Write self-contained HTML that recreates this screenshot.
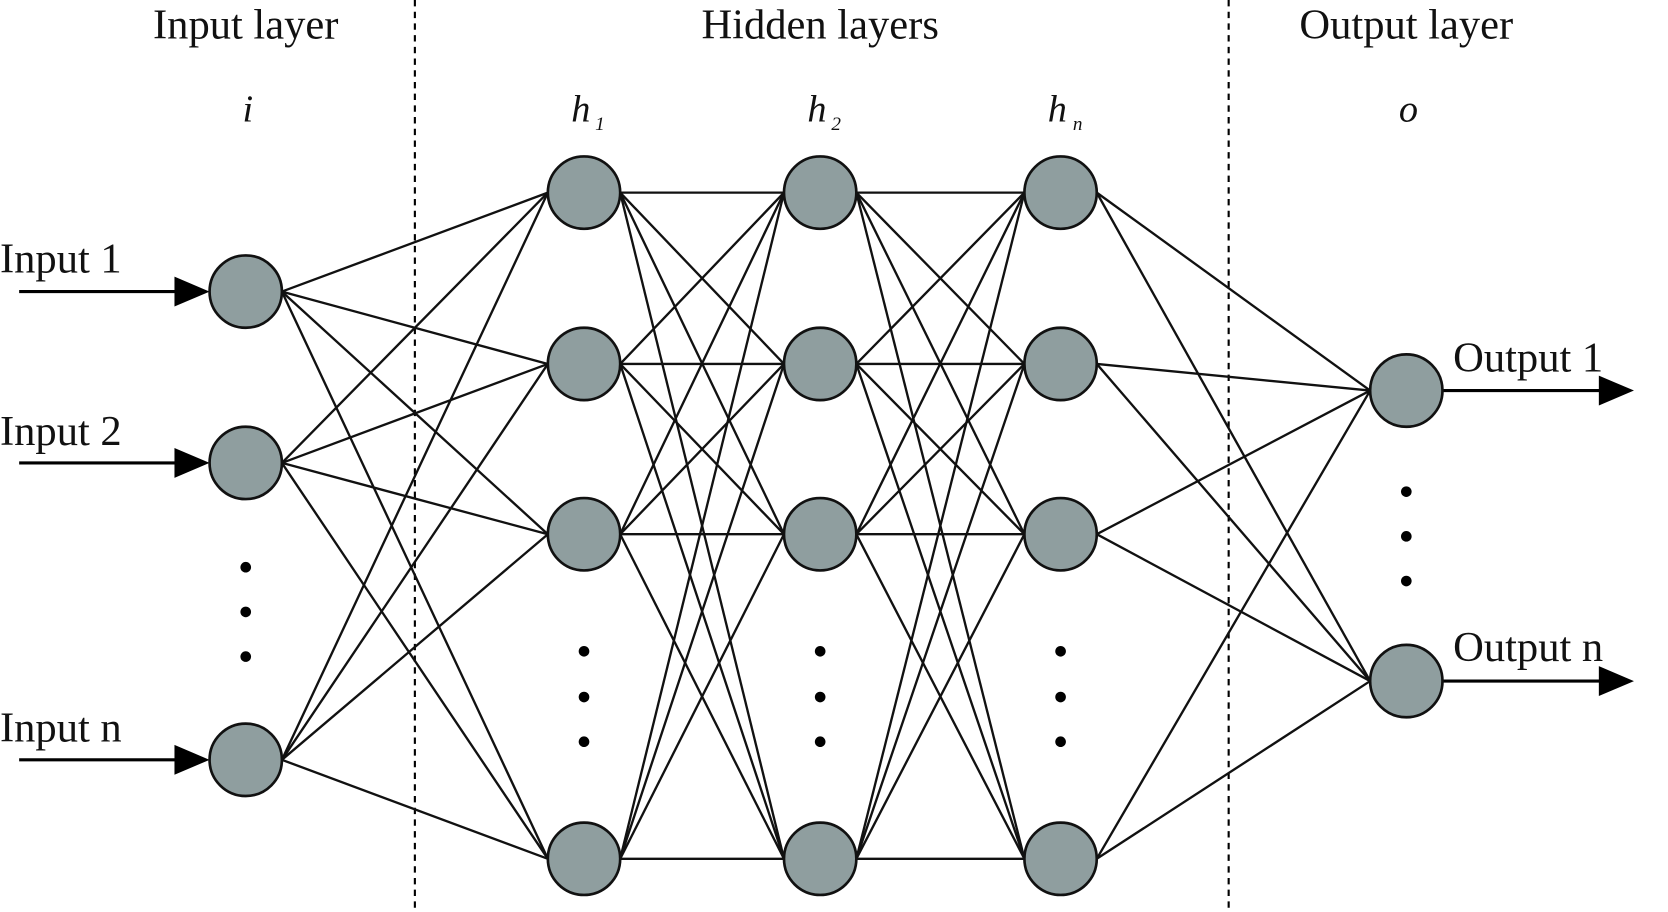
<!DOCTYPE html>
<html><head><meta charset="utf-8"><style>
html,body{margin:0;padding:0;background:#fff;}
svg{display:block;}
text{font-family:"Liberation Serif",serif;fill:#111;}
</style></head><body>
<svg width="1668" height="912" viewBox="0 0 1568 857" preserveAspectRatio="none" xmlns="http://www.w3.org/2000/svg">
<defs><marker id="a" viewBox="0 0 10 10" refX="10" refY="5" markerWidth="5" markerHeight="5" orient="auto" markerUnits="userSpaceOnUse"><path d="M0,0 L10,5 L0,10 Z" fill="#000"/></marker></defs>
<g stroke="#000" stroke-width="2" stroke-dasharray="6,5">
<line x1="390" y1="0" x2="390" y2="857"/><line x1="1155" y1="0" x2="1155" y2="857"/></g>
<g id="edges" stroke="#111" stroke-width="2.2" fill="none"></g>
<g stroke="#000" stroke-width="3">
<line x1="18" y1="274" x2="168" y2="274"/><line x1="18" y1="435" x2="168" y2="435"/><line x1="18" y1="714" x2="168" y2="714"/>
<line x1="1356" y1="367" x2="1508" y2="367"/><line x1="1356" y1="640" x2="1508" y2="640"/></g>
<g fill="#000">
<path d="M164,260 L197,274 L164,288Z"/><path d="M164,421 L197,435 L164,449Z"/><path d="M164,700 L197,714 L164,728Z"/>
<path d="M1503,353 L1536,367 L1503,381Z"/><path d="M1503,626 L1536,640 L1503,654Z"/></g>
<g id="nodes" fill="#8f9e9f" stroke="#111" stroke-width="2.5"></g>
<g fill="#000" id="dots"></g>
<g font-size="40" text-anchor="middle">
<text x="231" y="36">Input layer</text><text x="771" y="36">Hidden layers</text><text x="1322" y="36">Output layer</text>
<g font-style="italic" font-size="36"><text x="233" y="114">i</text><text x="546" y="114">h</text><text x="768" y="114">h</text><text x="994" y="114">h</text><text x="1324" y="114">o</text></g>
<g font-style="italic" font-size="18"><text x="564" y="122">1</text><text x="786" y="122">2</text><text x="1013" y="122">n</text></g>
</g>
<g font-size="40">
<text x="0" y="256">Input 1</text><text x="0" y="418">Input 2</text><text x="0" y="697">Input n</text>
<text x="1366" y="349">Output 1</text><text x="1366" y="621">Output n</text></g>
<script>
var ns="http://www.w3.org/2000/svg",R=34;
var I={x:231,ys:[274,435,714]},H=[549,771,997],HY=[181,342,502,807],O={x:1322,ys:[367,640]};
var E=document.getElementById("edges");
function L(x1,y1,x2,y2){var l=document.createElementNS(ns,"line");l.setAttribute("x1",x1);l.setAttribute("y1",y1);l.setAttribute("x2",x2);l.setAttribute("y2",y2);E.appendChild(l);}
I.ys.forEach(function(a){HY.forEach(function(b){L(I.x+R,a,H[0]-R,b);});});
for(var k=0;k<2;k++)HY.forEach(function(a){HY.forEach(function(b){L(H[k]+R,a,H[k+1]-R,b);});});
HY.forEach(function(a){O.ys.forEach(function(b){L(H[2]+R,a,O.x-R,b);});});
var N=document.getElementById("nodes");
function C(x,y){var c=document.createElementNS(ns,"circle");c.setAttribute("cx",x);c.setAttribute("cy",y);c.setAttribute("r",R);N.appendChild(c);}
I.ys.forEach(function(y){C(I.x,y);});H.forEach(function(x){HY.forEach(function(y){C(x,y);});});O.ys.forEach(function(y){C(O.x,y);});
var D=document.getElementById("dots");
function d(x,y){var c=document.createElementNS(ns,"circle");c.setAttribute("cx",x);c.setAttribute("cy",y);c.setAttribute("r",5);D.appendChild(c);}
[533,575,617].forEach(function(y){d(231,y);});
H.forEach(function(x){[612,655,697].forEach(function(y){d(x,y);});});
[462,504,546].forEach(function(y){d(1322,y);});
</script>
</svg>
</body></html>
